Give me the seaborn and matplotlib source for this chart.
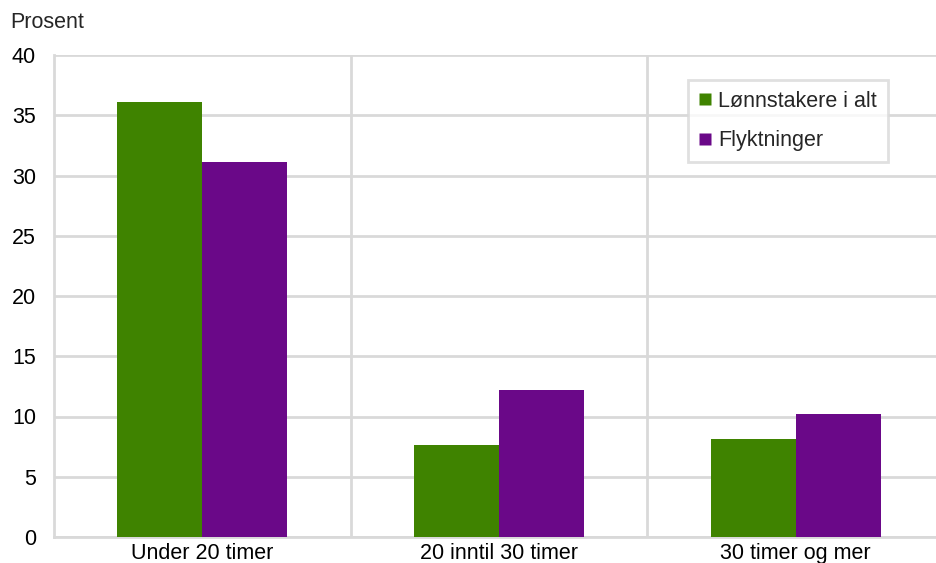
import matplotlib
matplotlib.use("Agg")
import matplotlib.pyplot as plt
from matplotlib.lines import Line2D
import pandas as pd
import seaborn as sns

# data
categories = ["Under 20 timer", "20 inntil 30 timer", "30 timer og mer"]
series_names = ["Lønnstakere i alt", "Flyktninger"]
lonnstakere = [36.1, 7.6, 8.1]
flyktninger = [31.1, 12.2, 10.2]
y_ticks = [0, 5, 10, 15, 20, 25, 30, 35, 40]

GREEN = "#3f8300"
PURPLE = "#6a0888"
GRID = "#d9d9d9"
FS = 15.5

df = pd.DataFrame({
    "kategori": categories * 2,
    "serie": [series_names[0]] * 3 + [series_names[1]] * 3,
    "prosent": lonnstakere + flyktninger,
})

sns.set_style("white")
plt.rcParams["font.family"] = ["Liberation Sans", "DejaVu Sans"]

fig = plt.figure(figsize=(9.36, 5.63), dpi=100)
# axes runs to (and a bit past) the right edge, like the reference
ax = fig.add_axes([54 / 936, 1 - 537 / 563, 890 / 936, 482 / 563])

sns.barplot(data=df, x="kategori", y="prosent", hue="serie",
            palette=[GREEN, PURPLE], saturation=1, width=0.573, gap=0,
            edgecolor="none", legend=False, ax=ax, zorder=3)

ax.set_ylim(0, 40)
ax.set_xlim(-0.5, 2.5)
ax.set_yticks(y_ticks)
ax.set_yticklabels([str(t) for t in y_ticks])
ax.yaxis.grid(True, color=GRID, linewidth=2, zorder=0)
for xv in (0.5, 1.5):
    ax.axvline(xv, color=GRID, linewidth=2, zorder=0)

ax.set_xlabel("")
ax.set_ylabel("")
ax.tick_params(axis="both", length=0, labelsize=FS, colors="black")
ax.tick_params(axis="y", pad=13)
ax.tick_params(axis="x", pad=4)

for side in ("top", "right"):
    ax.spines[side].set_visible(False)
for side in ("left", "bottom"):
    ax.spines[side].set_color(GRID)
    ax.spines[side].set_linewidth(2)

fig.text(10 / 936, 1 - 22 / 563, "Prosent", fontsize=FS, va="center", ha="left")

handles = [Line2D([], [], marker="s", linestyle="none", markersize=9,
                  markerfacecolor=c, markeredgecolor="none")
           for c in (GREEN, PURPLE)]
leg = ax.legend(handles, series_names, loc="upper left",
                bbox_to_anchor=(688 / 936, 1 - 80 / 563), bbox_transform=fig.transFigure,
                fontsize=FS, frameon=True, fancybox=False,
                handlelength=0.6, handletextpad=0.3, labelspacing=0.85,
                borderpad=0.5, borderaxespad=0)
leg.get_frame().set_edgecolor(GRID)
leg.get_frame().set_linewidth(2)

fig.savefig("out.png", dpi=100)
